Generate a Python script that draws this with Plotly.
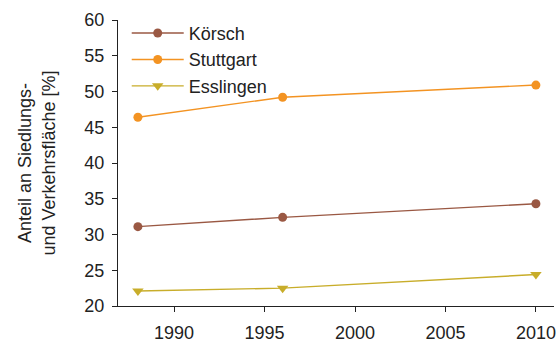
import plotly.graph_objects as go

years = [1988, 1996, 2010]
koersch = [31.1, 32.4, 34.3]
stuttgart = [46.4, 49.2, 50.9]
esslingen = [22.1, 22.5, 24.4]

series = [
    ("Körsch", koersch, "#9a5843", "circle"),
    ("Stuttgart", stuttgart, "#f39322", "circle"),
    ("Esslingen", esslingen, "#c8ad2a", "triangle-down"),
]

fig = go.Figure()
for name, vals, color, sym in series:
    fig.add_trace(go.Scatter(
        x=years, y=vals, name=name, mode="lines+markers",
        line=dict(color=color, width=1.4),
        marker=dict(color=color, size=9 if sym == "circle" else 10, symbol=sym),
        legendgroup=name,
    ))

font = "Liberation Sans, Arial, sans-serif"
fig.update_layout(
    width=560, height=342,
    margin=dict(l=118, r=6, t=20, b=36),
    plot_bgcolor="white", paper_bgcolor="white",
    font=dict(family=font, size=18, color="#222222"),
    showlegend=True,
    legend=dict(x=0.02, y=1.018, xanchor="left", yanchor="top",
                bgcolor="rgba(0,0,0,0)", font=dict(size=18),
                tracegroupgap=0, itemwidth=52),
    xaxis=dict(range=[1986.9, 2011], tickvals=[1990, 1995, 2000, 2005, 2010],
               showgrid=False, zeroline=False, showline=True, linecolor="#222222",
               linewidth=1, ticks="outside", ticklen=5, tickcolor="#222222",
               ticklabelstandoff=5, automargin=False),
    yaxis=dict(range=[20, 60], tickvals=[20, 25, 30, 35, 40, 45, 50, 55, 60],
               showgrid=False, zeroline=False, showline=True, linecolor="#222222",
               linewidth=1, ticks="outside", ticklen=5, tickcolor="#222222",
               ticklabelstandoff=4, automargin=False,
               title=dict(text="Anteil an Siedlungs-<br>und Verkehrsfläche [%]",
                          standoff=24, font=dict(size=18))),
)

fig.write_html("out.html")
